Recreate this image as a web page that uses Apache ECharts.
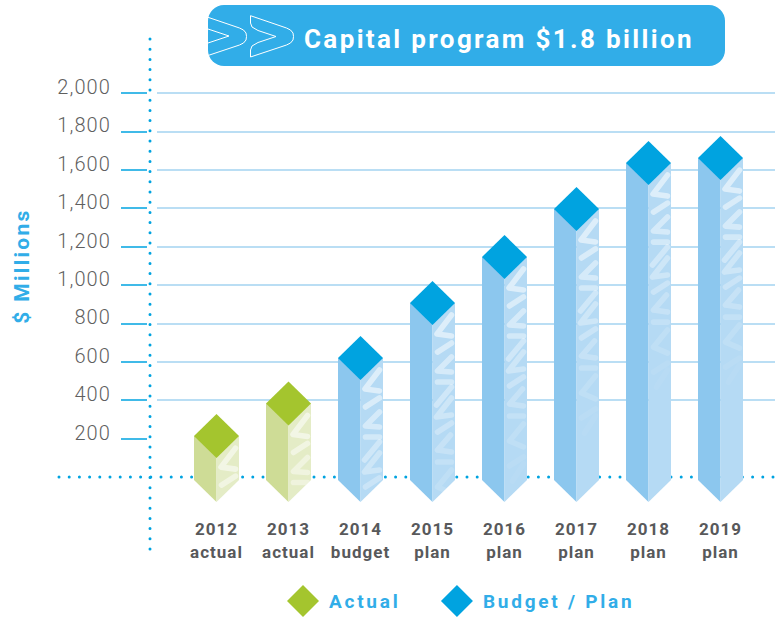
<!DOCTYPE html>
<html>
<head>
<meta charset="utf-8">
<style>
html,body{margin:0;padding:0;background:#fff}
#chart{width:780px;height:617px}
#chart text[style*="26px"]{letter-spacing:2.36px}
#chart text[style*="21px"]{letter-spacing:2.3px}
#chart text[style*="20px"]{letter-spacing:1.1px}
#chart text[style*="19px"]{letter-spacing:2.75px}
#chart text[style*="17px"]{letter-spacing:1px}
</style>
<script src="https://cdn.jsdelivr.net/npm/echarts@6/dist/echarts.min.js"></script>
</head>
<body>
<div id="chart"></div>
<script>
const years = ['2012','2013','2014','2015','2016','2017','2018','2019'];
const kinds = ['actual','actual','budget','plan','plan','plan','plan','plan'];
const actualValues = [213, 383];
const planValues = [620, 906, 1146, 1396, 1635, 1661];
const yTicks = [200,400,600,800,1000,1200,1400,1600,1800,2000];
const categories = years.map((y,i)=>y+'\n'+kinds[i]);
const actualData = actualValues.map((v,i)=>[categories[i], v]);
const planData = planValues.map((v,i)=>[categories[i+actualValues.length], v]);

const HALF = 22.5, DROP = 22;
// watermark strokes on the lit face: [offset across face, offset below bar top]
const glyphs = [
  [[19,12],[4.5,31],[19,33]],
  [[19,40],[5,49]],
  [[19,54],[5,68],[19,69]],
  [[5,79],[19,79]],
  [[19,84],[4,102]],
  [[19,95],[4,114],[19,112]],
  [[19,120],[5,129]],
  [[18,132],[5,147],[19,149]],
  [[5,159],[19,159]],
  [[19,167],[5,184],[19,190]],
  [[19,200],[5,209]],
  [[19,207],[8,224]]
];
function barRenderer(colors){
  return function(params, api){
    const p = api.coord([api.value(0), api.value(1)]);
    const base = api.coord([api.value(0), 0]);
    const x = p[0], top = p[1], bot = base[1] + 3;
    const faceClip = {type:'polygon', shape:{points:[[x,top],[x+HALF,top],[x+HALF,bot],[x,bot+DROP+1]]}};
    const strokes = glyphs.map(g=>{
      const mid = g.reduce((s,q)=>s+q[1],0)/g.length;
      return {
        type:'polyline',
        shape:{points:g.map(q=>[x+q[0], top+q[1]])},
        style:{fill:null, stroke:'#fff', lineWidth:5.6, lineCap:'round', lineJoin:'round',
               opacity:Math.max(0.04, 0.6*(1-mid/235))}
      };
    });
    return {type:'group', children:[
      {type:'polygon', shape:{points:[[x-HALF,top],[x,top],[x,bot+DROP],[x-HALF,bot]]}, style:{fill:colors[0]}},
      {type:'polygon', shape:{points:[[x,top],[x+HALF,top],[x+HALF,bot],[x,bot+DROP]]}, style:{fill:colors[1]}},
      {type:'group', clipPath:faceClip, children:strokes},
      {type:'polygon', shape:{points:[[x,top-DROP],[x+HALF,top],[x,top+DROP],[x-HALF,top]]}, style:{fill:colors[2]}}
    ]};
  };
}
const chart = echarts.init(document.getElementById('chart'), null, {renderer:'svg', width:780, height:617});
const dots = {stroke:'#00a3e0', lineWidth:3, lineDash:[0,10.2], lineCap:'round'};
const chevron = {fill:null, stroke:'#fff', lineWidth:1, lineJoin:'round'};
chart.setOption({
  animation:false,
  backgroundColor:'#fff',
  title:{text:'Capital program $1.8 billion', left:299, top:21,
    textStyle:{color:'#fff', fontFamily:'Roboto', fontWeight:700, fontSize:26}},
  legend:{left:282, top:580, itemWidth:32, itemHeight:32, itemGap:57, icon:'diamond',
    data:[{name:'Actual'},{name:'Budget / Plan'}],
    textStyle:{color:'#31ade8', fontFamily:'Roboto', fontWeight:700, fontSize:19, padding:[12,0,0,5]}},
  grid:[
    {left:157, top:93, width:618, height:384},
    {left:180.5, top:93, width:576, height:384}
  ],
  xAxis:[
    {type:'category', gridIndex:0, show:false, data:categories},
    {type:'category', gridIndex:1, data:categories,
      axisLine:{show:false}, axisTick:{show:false}, splitLine:{show:false},
      axisLabel:{margin:40, interval:0, color:'#58595b', fontFamily:'Roboto', fontWeight:700, fontSize:17, lineHeight:23}}
  ],
  yAxis:[
    {type:'value', gridIndex:0, min:0, max:2000, interval:200, offset:10,
      axisLine:{show:false},
      axisTick:{show:true, length:26, lineStyle:{color:'#00a3e0', width:1.5}, customValues:yTicks},
      axisLabel:{margin:36, color:'#5f5f5f', fontFamily:'Roboto', fontWeight:300, fontSize:20, customValues:yTicks,
        verticalAlign:'bottom', lineHeight:12,
        formatter:v=>v.toLocaleString('en-US')},
      splitLine:{show:true, showMinLine:false, lineStyle:{color:'#a3d3f0', width:1.6}}},
    {type:'value', gridIndex:1, min:0, max:2000, interval:200, show:false}
  ],
  graphic:[
    {type:'rect', z:0, shape:{x:208,y:5,width:517,height:61,r:16}, style:{fill:'#31ade8'}},
    {type:'polyline', z:1, shape:{points:[[208,17.3],[239.5,28],[243.5,30],[246,33],[246.5,36.5],[246,40],[243.5,43],[239.5,45],[208,55.5]]}, style:chevron},
    {type:'polyline', z:1, shape:{points:[[208,29],[229,36],[208,43]]}, style:chevron},
    {type:'polyline', z:1, shape:{points:[[250.5,15.7],[286.5,28],[290.5,30],[293,33],[293.5,36.5],[293,40],[290.5,43],[286.5,45],[250.5,57],[250.5,50],[252,46],[258,42.5],[276,36.5],[258,30.5],[252,27],[250.5,23],[250.5,15.7]]}, style:chevron},
    {type:'line', z:1, shape:{x1:150,y1:39,x2:150,y2:558}, style:dots},
    {type:'line', z:1, shape:{x1:59,y1:477,x2:780,y2:477}, style:dots},
    {type:'text', z:1, x:22, y:266, rotation:Math.PI/2,
      style:{text:'$ Millions', align:'center', verticalAlign:'middle', fill:'#31ade8',
        font:'700 21px Roboto'}}
  ],
  series:[
    {name:'Actual', type:'custom', xAxisIndex:1, yAxisIndex:1, z:5,
      encode:{x:0,y:1}, data:actualData, itemStyle:{color:'#a4c52e'},
      renderItem:barRenderer(['#cedc96','#e4ecc6','#a4c52e'])},
    {name:'Budget / Plan', type:'custom', xAxisIndex:1, yAxisIndex:1, z:5,
      encode:{x:0,y:1}, data:planData, itemStyle:{color:'#00a3e0'},
      renderItem:barRenderer(['#8cc7ee','#b5daf4','#00a3e0'])}
  ]
});
</script>
</body>
</html>
